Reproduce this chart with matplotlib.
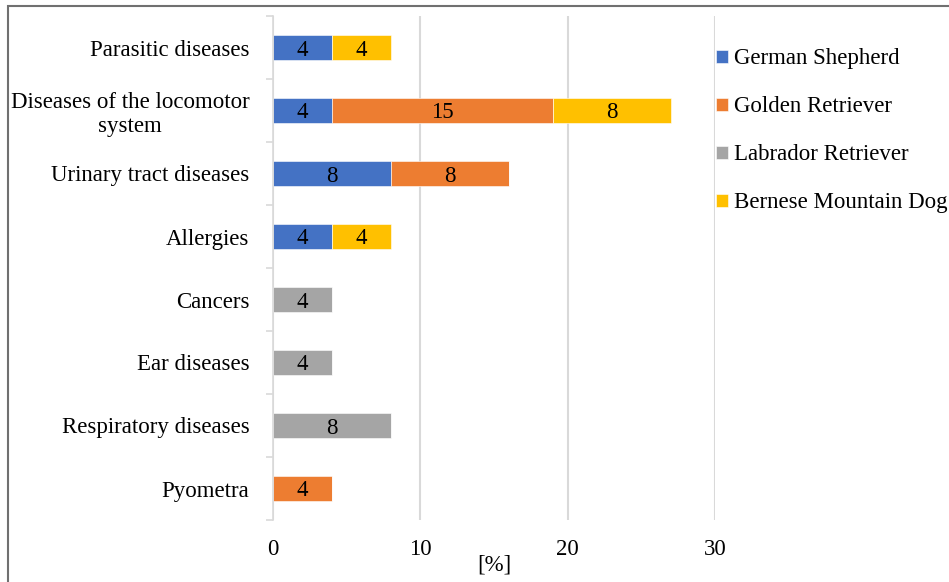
import numpy as np
import matplotlib.pyplot as plt
from matplotlib.patches import Rectangle

plt.rcParams['font.family'] = ['Liberation Serif', 'DejaVu Serif']

categories = ["Parasitic diseases", "Diseases of the locomotor\nsystem", "Urinary tract diseases",
              "Allergies", "Cancers", "Ear diseases", "Respiratory diseases", "Pyometra"]
breeds = ["German Shepherd", "Golden Retriever", "Labrador Retriever", "Bernese Mountain Dog"]
german_shepherd = [4, 4, 8, 4, 0, 0, 0, 0]
golden_retriever = [0, 15, 8, 0, 0, 0, 0, 4]
labrador_retriever = [0, 0, 0, 0, 4, 4, 8, 0]
bernese_mountain_dog = [4, 8, 0, 4, 0, 0, 0, 0]
colors = ["#4472C4", "#ED7D31", "#A5A5A5", "#FFC000"]

series = [german_shepherd, golden_retriever, labrador_retriever, bernese_mountain_dog]
FS = 16.5

fig = plt.figure(figsize=(9.49, 5.82), dpi=100)
ax = fig.add_axes([273/949, 1-520/582, (715-273)/949, (520-16)/582])

y = np.arange(len(categories))
left = np.zeros(len(categories))
handles = []
for vals, c, name in zip(series, colors, breeds):
    vals = np.array(vals, dtype=float)
    b = ax.barh(y, vals, left=left, height=0.4, color=c, edgecolor="white", linewidth=0.4, label=name, zorder=3)
    handles.append(b)
    for yi, v, l in zip(y, vals, left):
        if v > 0:
            ax.text(l + v/2, yi, f"{v:g}", ha="center", va="center_baseline", fontsize=FS, color="black", zorder=4)
    left += vals

ax.set_xlim(0, 30)
ax.set_ylim(len(categories) - 0.5, -0.5)
ax.set_xticks([0, 10, 20, 30])
ax.set_yticks(y)
ax.set_yticklabels(categories, multialignment="center")
ax.set_yticks(np.arange(-0.5, len(categories)), minor=True)
ax.tick_params(axis="y", which="major", length=0, pad=17, labelsize=FS)
ax.tick_params(axis="y", which="minor", length=5, color="#D9D9D9", width=1.2)
ax.tick_params(axis="x", length=0, pad=14, labelsize=FS)
ax.grid(axis="x", color="#D9D9D9", linewidth=1.5, zorder=0)
for s in ["top", "right", "bottom"]:
    ax.spines[s].set_visible(False)
ax.spines["left"].set_color("#D9D9D9")
ax.spines["left"].set_linewidth(1.2)
ax.spines["left"].set_zorder(5)
ax.set_xlabel("[%]", fontsize=FS, labelpad=-4)

fig.legend(handles=handles, labels=breeds, loc="upper left", bbox_to_anchor=(707/949, 1-39/582),
           frameon=False, fontsize=FS, handlelength=0.5, handleheight=0.5, handletextpad=0.3,
           labelspacing=1.18, borderaxespad=0)

fig.patches.append(Rectangle((8/949, -0.1), 1.2, 1 - 6/582 + 0.1, transform=fig.transFigure,
                             fill=False, edgecolor="#707070", linewidth=1.5))

fig.savefig("out.png", dpi=100)
